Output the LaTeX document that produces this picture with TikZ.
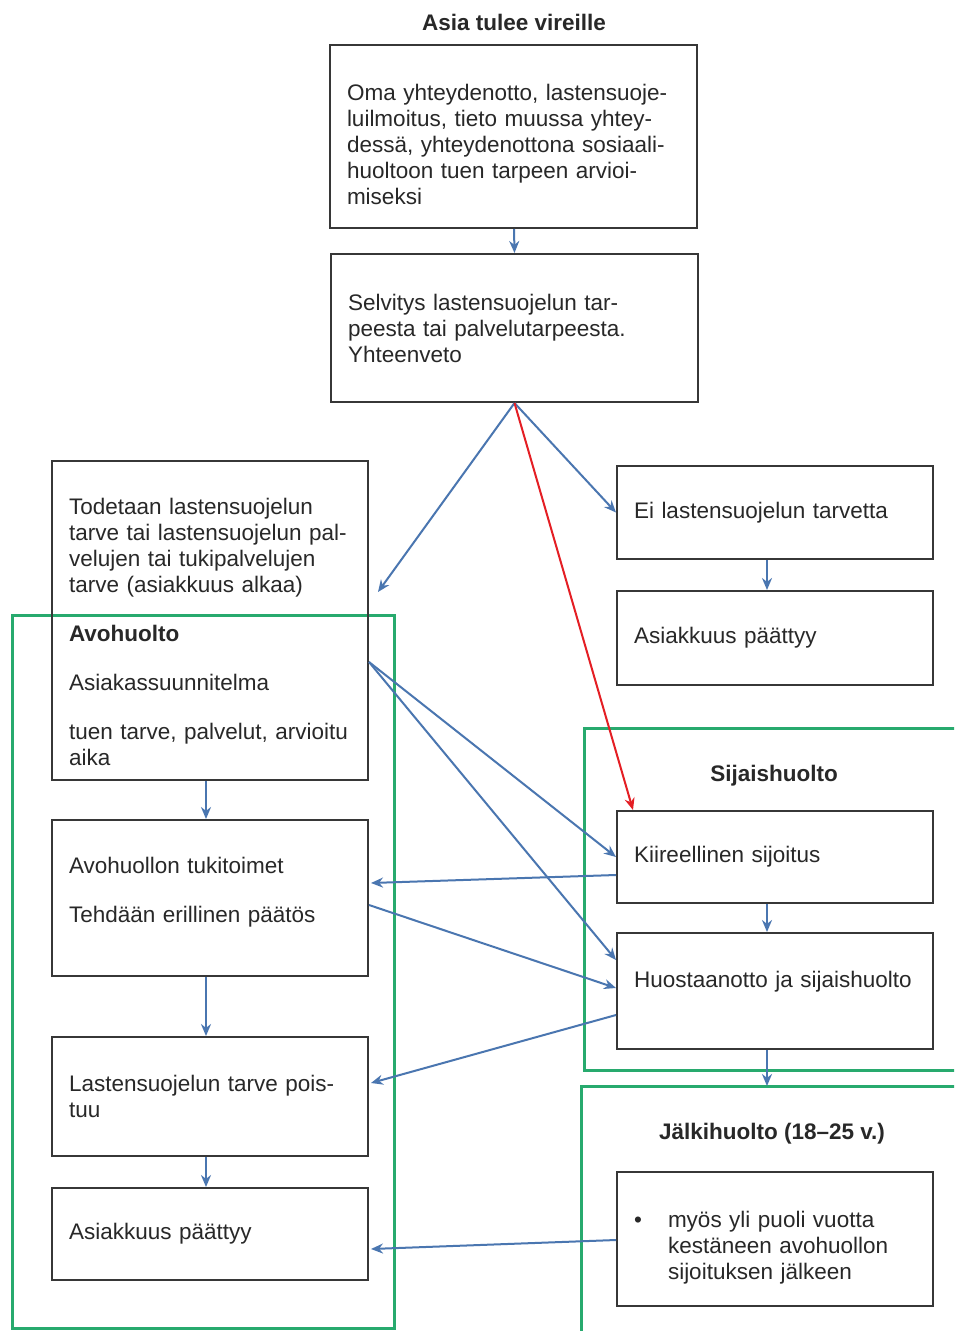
\documentclass[tikz,border=0pt]{standalone}
\usepackage{fontspec}
\setmainfont{Liberation Sans}
\usetikzlibrary{arrows.meta,calc}
\definecolor{arrowblue}{RGB}{74,118,176}
\definecolor{grp}{RGB}{40,170,110}
\definecolor{redarrow}{RGB}{228,30,36}
\definecolor{boxline}{RGB}{55,55,55}
\definecolor{txt}{RGB}{40,40,40}
\begin{document}
\begin{tikzpicture}[x=1pt,y=-1pt,
  every node/.style={font=\fontsize{22.5}{26}\selectfont, text=txt},
  box/.style={draw=boxline, line width=2pt, rectangle, align=left, inner xsep=17pt, inner ysep=0pt},
  wbox/.style={box, text width=282pt, minimum width=316pt},
  group/.style={draw=grp, line width=3pt},
  conn/.style={draw=arrowblue, line width=2pt, -{Stealth[length=12pt,width=10pt]}},
  redconn/.style={draw=redarrow, line width=2pt, -{Stealth[length=12pt,width=10pt]}},
  title/.style={font=\bfseries\fontsize{22.5}{26}\selectfont}
]
\fill[white] (0,0) rectangle (954,1331);
\useasboundingbox (0,0) rectangle (954,1331);
\begin{scope}
\clip (0,0) rectangle (954,1331);
% groups
\draw[group] (12,615) rectangle (394,1328);
\draw[group] (584,728) rectangle (975,1070);
\draw[group] (581,1086) rectangle (975,1350);
\end{scope}

% titles
\node[title] (t0) at (514,22) {Asia tulee vireille};
\node[title] (t1) at (774,776) {Sijaishuolto};
\node[title] (t2) at (772,1134) {Jälkihuolto (18–25 v.)};

% boxes
\node[box, text width=333pt, minimum width=367pt, minimum height=183pt] (top) at (513.5,136.5)
 {\rule{0pt}{32pt}Oma yhteydenotto, lastensuoje-\\
  luilmoitus, tieto muussa yhtey-\\
  dessä, yhteydenottona sosiaali-\\
  huoltoon tuen tarpeen arvioi-\\
  miseksi};
\node[box, text width=333pt, minimum width=367pt, minimum height=148pt] (sel) at (514.5,328)
 {Selvitys lastensuojelun tar-\\
  peesta tai palvelutarpeesta.\\
  Yhteenveto};
\node[wbox, minimum height=319pt] (tod) at (210,620.5)
 {\rule{0pt}{39pt}Todetaan lastensuojelun\\
  tarve tai lastensuojelun pal-\\
  velujen tai tukipalvelujen\\
  tarve (asiakkuus alkaa)\\[23pt]
  \textbf{Avohuolto}\\[23pt]
  Asiakassuunnitelma\\[23pt]
  tuen tarve, palvelut, arvioitu\\
  aika};
\node[wbox, minimum height=156pt] (avo) at (210,898)
 {Avohuollon tukitoimet\\[23pt]
  Tehdään erillinen päätös\rule[-17pt]{0pt}{1pt}};
\node[wbox, minimum height=119pt] (las) at (210,1096.5)
 {Lastensuojelun tarve pois-\\
  tuu};
\node[wbox, minimum height=92pt] (asl) at (210,1234) {Asiakkuus päättyy};

\node[wbox, minimum height=93pt] (ei) at (775,512.5) {Ei lastensuojelun tarvetta};
\node[wbox, minimum height=94pt] (asr) at (775,638) {Asiakkuus päättyy};
\node[wbox, minimum height=92pt] (kii) at (775,857) {Kiireellinen sijoitus};
\node[wbox, minimum height=116pt] (huo) at (775,991) {Huostaanotto ja sijaishuolto\rule[-24pt]{0pt}{1pt}};
\node[wbox, minimum height=134pt] (jal) at (775,1239)
 {\rule{0pt}{34pt}\makebox[34pt][l]{\textbullet}myös yli puoli vuotta\\
  \hspace*{34pt}kestäneen avohuollon\\
  \hspace*{34pt}sijoituksen jälkeen};

\coordinate (tip1) at (378,592);
\coordinate (jtop) at (767,1086);

% connectors
\draw[conn] ($(top.south)+(0.5,0)$) -- (sel.north);
\draw[conn] (sel.south) -- (tip1);
\draw[conn] (sel.south) -- (ei.west);
\draw[redconn] (sel.south) -- ($(kii.north west)+(17,0)$);
\draw[conn] ($(ei.south)+(-8,0)$) -- ($(asr.north)+(-8,0)$);
\draw[conn] ($(kii.south)+(-8,0)$) -- ($(huo.north)+(-8,0)$);
\draw[conn] ($(huo.south)+(-8,0)$) -- (jtop);
\draw[conn] ($(tod.south)+(-4,0)$) -- ($(avo.north)+(-4,0)$);
\draw[conn] ($(avo.south)+(-4,0)$) -- ($(las.north)+(-4,0)$);
\draw[conn] ($(las.south)+(-4,0)$) -- ($(asl.north)+(-4,0)$);

\draw[conn] ($(tod.east)+(0,41.5)$) -- (kii.west);
\draw[conn] ($(tod.east)+(0,41.5)$) -- ($(huo.west)+(0,-31)$);
\draw[conn] ($(kii.west)+(0,18)$) -- ($(avo.east)+(2,-15)$);
\draw[conn] ($(avo.east)+(0,7)$) -- ($(huo.west)+(0,-3)$);
\draw[conn] ($(huo.west)+(0,24)$) -- ($(las.east)+(2,-13.5)$);
\draw[conn] ($(jal.west)+(0,1)$) -- ($(asl.east)+(2,15)$);
\end{tikzpicture}
\end{document}
